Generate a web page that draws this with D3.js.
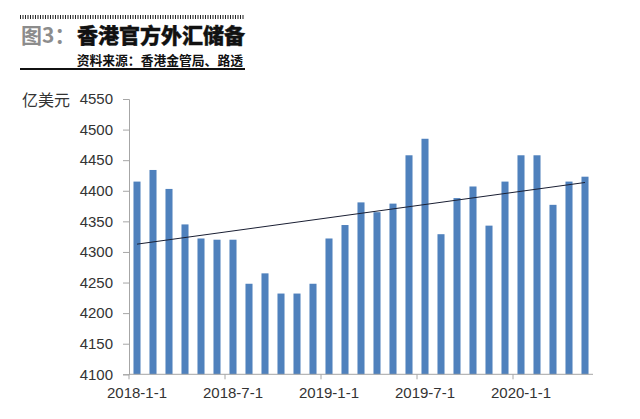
<!DOCTYPE html>
<html><head><meta charset="utf-8">
<script src="https://cdn.jsdelivr.net/npm/d3@7"></script>
<style>body{margin:0;background:#fff}svg{display:block}</style>
</head><body>
<script>
const months = ["2018-1","2018-2","2018-3","2018-4","2018-5","2018-6","2018-7","2018-8","2018-9","2018-10","2018-11","2018-12",
"2019-1","2019-2","2019-3","2019-4","2019-5","2019-6","2019-7","2019-8","2019-9","2019-10","2019-11","2019-12",
"2020-1","2020-2","2020-3","2020-4","2020-5"];
const reserves = [4415,4434,4403,4345,4322,4320,4320,4248,4265,4232,4232,4248,4322,4344,4381,4365,4379,4458,4485,4329,4388,4407,4343,4415,4458,4458,4377,4415,4423];
const xTickLabels = {"2018-1":"2018-1-1","2018-7":"2018-7-1","2019-1":"2019-1-1","2019-7":"2019-7-1","2020-1":"2020-1-1"};
const yTicks = [4100,4150,4200,4250,4300,4350,4400,4450,4500,4550];

(function(){
const W=640,H=419;
const svg=d3.select("body").append("svg").attr("width",W).attr("height",H);
const pl=129,pr=593,pt=99,pb=374.3;
const x=d3.scaleBand().domain(months).range([pl,pr]).paddingInner(0.56).paddingOuter(0.28);
const y=d3.scaleLinear().domain([4100,4550]).range([pb,pt]);

// header
svg.append("line").attr("x1",20).attr("x2",245).attr("y1",17).attr("y2",17)
  .attr("stroke","#222").attr("stroke-width",4).attr("stroke-dasharray","1 1.5");
svg.append("text").attr("x",21).attr("y",43).attr("font-family","'Noto Sans CJK SC'").attr("font-weight","bold")
  .attr("font-size",21).attr("fill","#8c8c8c").text("图3：");
svg.append("text").attr("x",245).attr("y",43).attr("text-anchor","end").attr("font-family","'Noto Sans CJK SC'")
  .attr("font-weight","900").attr("font-size",21).attr("fill","#111").attr("stroke","#111").attr("stroke-width",0.4)
  .text("香港官方外汇储备");
svg.append("text").attr("x",243).attr("y",64.5).attr("text-anchor","end").attr("font-family","'Noto Sans CJK SC'")
  .attr("font-weight","bold").attr("font-size",12.8).attr("fill","#111").text("资料来源：香港金管局、路透");
svg.append("line").attr("x1",20).attr("x2",245).attr("y1",69).attr("y2",69).attr("stroke","#111").attr("stroke-width",2);

// y axis
const yAxis=svg.append("g").attr("transform",`translate(${pl},0)`)
  .call(d3.axisLeft(y).tickValues(yTicks).tickSize(6).tickPadding(10).tickFormat(d3.format("d")));
yAxis.select(".domain").attr("stroke","#a6a6a6");
yAxis.selectAll(".tick line").attr("stroke","#a6a6a6");
yAxis.selectAll("text").attr("font-family","'Liberation Sans'").attr("font-size",15).attr("fill","#333");
svg.append("text").attr("x",22).attr("y",105.5).attr("font-family","'Noto Sans CJK SC'").attr("font-size",16).attr("fill","#333").text("亿美元");

// bars
svg.append("g").selectAll("rect").data(reserves).join("rect")
  .attr("x",(d,i)=>x(months[i])).attr("width",x.bandwidth())
  .attr("y",d=>y(d)).attr("height",d=>pb-y(d)).attr("fill","#4f81bd");

// x axis
const step=x.step();
const xg=svg.append("g");
xg.append("line").attr("x1",pl).attr("x2",pr).attr("y1",pb).attr("y2",pb).attr("stroke","#a6a6a6");
Object.keys(xTickLabels).forEach(m=>{
  const start=pl+months.indexOf(m)*step;
  xg.append("line").attr("x1",start).attr("x2",start).attr("y1",pb).attr("y2",pb+5).attr("stroke","#a6a6a6");
  xg.append("text").attr("x",start+step/2).attr("y",pb+24).attr("text-anchor","middle")
    .attr("font-family","'Liberation Sans'").attr("font-size",15).attr("fill","#333").text(xTickLabels[m]);
});

// linear trendline (least squares)
const n=reserves.length, idx=d3.range(n);
const mx=d3.mean(idx), my=d3.mean(reserves);
const slope=d3.sum(idx,i=>(i-mx)*(reserves[i]-my))/d3.sum(idx,i=>(i-mx)*(i-mx));
const icpt=my-slope*mx;
const cx=i=>x(months[i])+x.bandwidth()/2;
svg.append("line").attr("x1",cx(0)).attr("y1",y(icpt)).attr("x2",cx(n-1)).attr("y2",y(icpt+slope*(n-1)))
  .attr("stroke","#1a1f33").attr("stroke-width",1);
})();
</script>
</body></html>
